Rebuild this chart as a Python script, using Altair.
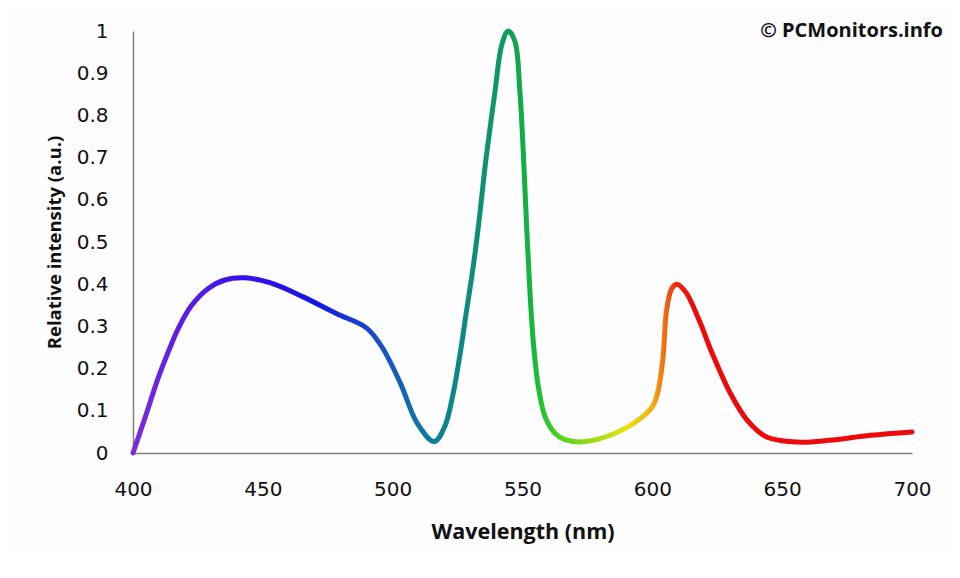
import altair as alt
import pandas as pd

# Spectrum
wavelength = [400, 404.6, 409.7, 413.6, 417.5, 422.6, 429, 435.4, 443, 453, 465.5, 478.5, 490, 496,
              503, 509.5, 516, 520, 523.3, 526, 528.5, 531, 533, 535, 536, 539.4, 542, 544.5, 547.1,
              549, 550.3, 551.6, 552.9, 554.2, 556.1, 558.7, 562.5, 566.5, 574, 585, 595, 600, 602,
              604, 605.5, 607.5, 609.5, 613, 618, 623, 630, 636.5, 644, 656, 668, 684, 700]
intensity = [0.0, 0.083, 0.178, 0.24, 0.296, 0.35, 0.39, 0.41, 0.415, 0.403, 0.37, 0.33, 0.296, 0.25,
             0.165, 0.07, 0.027, 0.062, 0.141, 0.236, 0.339, 0.441, 0.536, 0.647, 0.70, 0.856, 0.967, 1.0, 0.975,
             0.856, 0.714, 0.536, 0.378, 0.26, 0.157, 0.086, 0.047, 0.031, 0.027, 0.045, 0.08, 0.11, 0.142,
             0.22, 0.34, 0.39, 0.40, 0.38, 0.315, 0.237, 0.142, 0.078, 0.038, 0.026, 0.03, 0.042, 0.05]

# Colour along the spectrum (wavelength, colour)
stop_wl = [400, 420, 440, 470, 495, 515, 530, 545, 555, 567, 590, 600, 605, 609, 615, 700]
stop_col = ["#7b2bd8", "#5a1ee6", "#3a12ea", "#1414e6", "#1850c8", "#0a7f9c", "#0e8c7a", "#0d9e55",
            "#18bb38", "#60d81a", "#e8e412", "#f0b010", "#f06a10", "#f02a0c", "#ee0a0a", "#ee0a0a"]

x_ticks = [400, 450, 500, 550, 600, 650, 700]
y_ticks = [0, 0.1, 0.2, 0.3, 0.4, 0.5, 0.6, 0.7, 0.8, 0.9, 1]

df = pd.DataFrame({"wl": wavelength, "v": intensity})

grad = alt.Gradient(
    gradient="linear",
    x1=0, x2=1, y1=0, y2=0,
    stops=[alt.GradientStop(color=c, offset=(w - 400) / 300) for w, c in zip(stop_wl, stop_col)],
)

line = alt.Chart(df).mark_line(
    interpolate="catmull-rom", strokeWidth=5, color=grad, strokeCap="round"
).encode(
    x=alt.X("wl:Q", scale=alt.Scale(domain=[400, 700], nice=False, zero=False),
            axis=alt.Axis(values=x_ticks, title="Wavelength (nm)", format="d", labelFlush=False,
                          labelPadding=26, titlePadding=22, titleFontSize=21.5)),
    y=alt.Y("v:Q", scale=alt.Scale(domain=[0, 1], nice=False),
            axis=alt.Axis(values=y_ticks, title="Relative intensity (a.u.)", format="~g",
                          labelPadding=25, titlePadding=12, titleFontSize=18.5)),
)

credit = alt.Chart(pd.DataFrame({"t": ["© PCMonitors.info"]})).mark_text(
    align="right", baseline="middle", font="Open Sans", fontSize=20, fontWeight="bold", color="#111111"
).encode(text="t:N", x=alt.value(810), y=alt.value(0))

chart = alt.layer(line, credit).properties(
    width=779, height=422,
    autosize=alt.AutoSizeParams(type="none"),
    padding={"left": 125, "top": 23, "right": 40, "bottom": 100},
    background="#fdfcfe",
).configure_view(stroke=None).configure_axis(
    grid=False, ticks=False, domainColor="#808080", domainWidth=1.5,
    labelFont="DejaVu Sans", labelFontSize=20, labelColor="#111111",
    titleFont="Open Sans", titleFontWeight="bold", titleColor="#111111",
)

chart.save("out.html", embed_options={"renderer": "svg", "actions": False})
